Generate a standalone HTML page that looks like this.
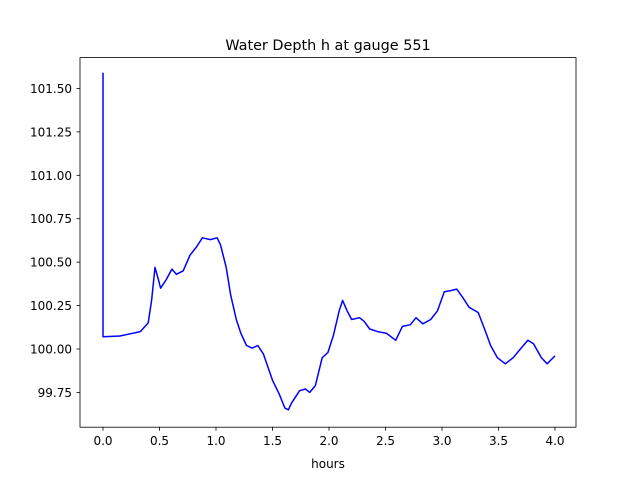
<!DOCTYPE html>
<html><head><meta charset="utf-8"><style>
body{margin:0;background:#fff;}
svg text{font-family:"DejaVu Sans","Liberation Sans",sans-serif;fill:#000;}
</style></head><body>
<svg id="chart" width="640" height="480" xmlns="http://www.w3.org/2000/svg">
<rect width="640" height="480" fill="#fff"/>
<text x="328" y="50" font-size="14.4" text-anchor="middle">Water Depth h at gauge 551</text>
<text x="328" y="468" font-size="12" text-anchor="middle">hours</text>
<g id="ticks"></g>
<path id="line" fill="none" stroke="#0000ff" stroke-width="1.5" stroke-linejoin="round"/>
<rect x="80" y="57.6" width="496" height="369.6" fill="none" stroke="#000" stroke-width="0.8"/>
</svg>
<script>
const hours=[0,0,0.15,0.33,0.40,0.43,0.46,0.49,0.51,0.56,0.61,0.65,0.71,0.77,0.83,0.88,0.95,1.01,1.04,1.09,1.13,1.18,1.22,1.27,1.32,1.37,1.42,1.50,1.56,1.61,1.64,1.67,1.74,1.79,1.83,1.88,1.94,1.99,2.04,2.09,2.12,2.16,2.20,2.27,2.31,2.36,2.43,2.51,2.59,2.65,2.72,2.77,2.83,2.90,2.96,3.02,3.07,3.13,3.19,3.24,3.32,3.38,3.43,3.49,3.56,3.63,3.70,3.76,3.81,3.88,3.93,4.0];
const depth=[101.59,100.07,100.075,100.1,100.15,100.28,100.47,100.4,100.35,100.4,100.46,100.43,100.45,100.54,100.59,100.64,100.63,100.64,100.6,100.47,100.31,100.17,100.09,100.02,100.005,100.02,99.97,99.82,99.74,99.66,99.65,99.69,99.76,99.77,99.75,99.79,99.95,99.98,100.08,100.22,100.28,100.22,100.17,100.18,100.16,100.115,100.1,100.09,100.05,100.13,100.14,100.18,100.145,100.17,100.22,100.33,100.335,100.345,100.29,100.24,100.21,100.11,100.02,99.95,99.915,99.95,100.005,100.05,100.03,99.95,99.915,99.96];
const xTicks=[0,0.5,1,1.5,2,2.5,3,3.5,4];
const yTicks=[99.75,100,100.25,100.5,100.75,101,101.25,101.5];
const X=t=>103+t*113;
const Y=h=>349-(h-100)*173.7;
const NS="http://www.w3.org/2000/svg";
const g=document.getElementById('ticks');
function mk(tag,a){const e=document.createElementNS(NS,tag);for(const k in a)e.setAttribute(k,a[k]);g.appendChild(e);return e;}
xTicks.forEach(v=>{
 const l=mk('line',{x1:X(v),x2:X(v),y1:427.2,y2:430.7,stroke:'#000','stroke-width':0.8});
 
 
 const t=mk('text',{x:X(v),y:445,'font-size':12,'text-anchor':'middle'});t.textContent=v.toFixed(1);
 
 
});
yTicks.forEach(v=>{
 const l=mk('line',{x1:76.5,x2:80,y1:Y(v),y2:Y(v),stroke:'#000','stroke-width':0.8});
 
 
 const t=mk('text',{x:72,y:Y(v)+4.5,'font-size':12,'text-anchor':'end'});t.textContent=v.toFixed(2);
 
 
});
document.getElementById('line').setAttribute('d',hours.map((t,i)=>(i?'L':'M')+X(t).toFixed(1)+','+Y(depth[i]).toFixed(1)).join(''));
</script>
</body></html>
